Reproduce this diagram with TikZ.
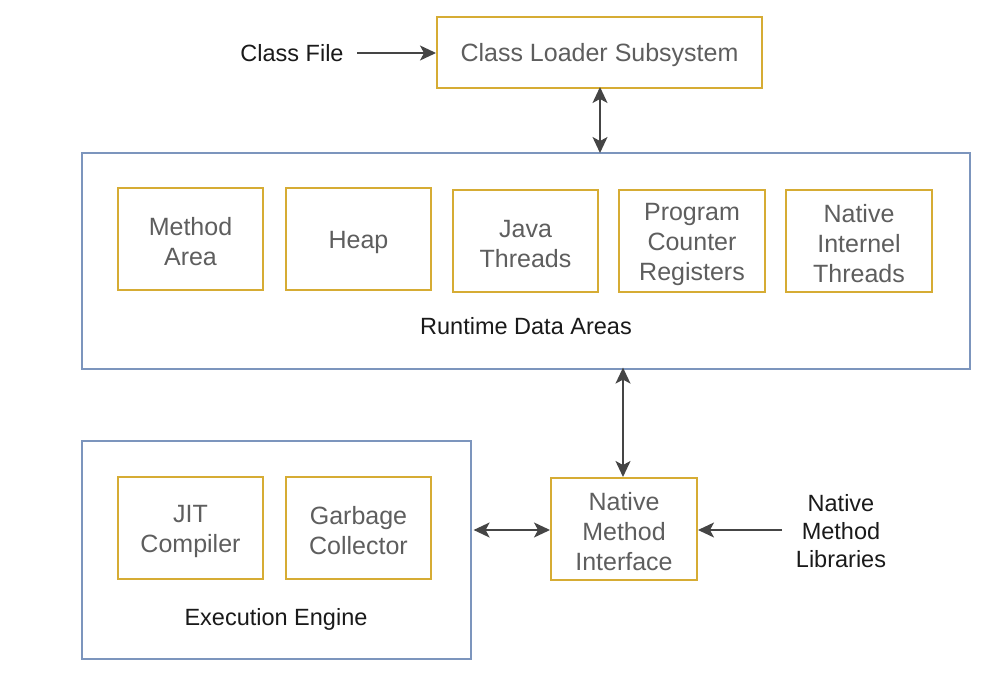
\documentclass[tikz,border=0pt]{standalone}
\usepackage{fontspec}
\setmainfont{Liberation Sans}
\usetikzlibrary{arrows.meta}
\definecolor{gold}{HTML}{D6AC34}
\definecolor{bluegray}{HTML}{7C95BD}
\definecolor{innertext}{HTML}{5E5E5E}
\definecolor{arrowc}{HTML}{454545}
\definecolor{labeltext}{HTML}{1A1A1A}
\tikzset{
  goldtext/.style={text=innertext, align=center, font=\fontsize{25}{30}\selectfont, inner sep=0pt, yshift=-3pt},
  goldbox/.style={draw=gold, line width=2pt, fill=white, inner sep=0pt,
    label={[goldtext]center:{#1}}},
  bluebox/.style={draw=bluegray, line width=1.6pt, fill=white},
  plainlabel/.style={text=labeltext, align=center, font=\fontsize{23.5}{28}\selectfont, inner sep=0pt},
  conn/.style={draw=arrowc, line width=1.6pt},
  tipboth/.style={{Stealth[length=16pt,width=15pt,inset=4pt]}-{Stealth[length=16pt,width=15pt,inset=4pt]}},
  tipend/.style={-{Stealth[length=16pt,width=15pt,inset=4pt]}}
}
\begin{document}
\begin{tikzpicture}[x=1pt,y=-1pt]
\useasboundingbox (0,0) rectangle (998,690);
% runtime data areas container
\node[bluebox, minimum width=888pt, minimum height=216pt, anchor=north west] (rda) at (81,152) {};
\node[plainlabel] (rdalabel) at (526,326) {Runtime Data Areas};
% execution engine container
\node[bluebox, minimum width=389pt, minimum height=218pt, anchor=north west] (ee) at (81,440) {};
\node[plainlabel] (eelabel) at (276,619) {Execution Engine};
% class loader
\node[goldbox={Class Loader Subsystem}, minimum width=325pt, minimum height=71pt] (cls) at (599.5,52.5) {};
\node[plainlabel] (cf) at (292,53) {Class File};
% inner boxes
\node[goldbox={Method\\Area}, minimum width=145pt, minimum height=102pt] (ma) at (190.5,239) {};
\node[goldbox={Heap}, minimum width=145pt, minimum height=102pt] (heap) at (358.5,239) {};
\node[goldbox={Java\\Threads}, minimum width=145pt, minimum height=102pt] (jt) at (525.5,241) {};
\node[goldbox={Program\\Counter\\Registers}, minimum width=146pt, minimum height=102pt] (pc) at (692,241) {};
\node[goldbox={Native\\Internel\\Threads}, minimum width=146pt, minimum height=102pt] (nit) at (859,241) {};
\node[goldbox={JIT\\Compiler}, minimum width=145pt, minimum height=102pt] (jit) at (190.5,528) {};
\node[goldbox={Garbage\\Collector}, minimum width=145pt, minimum height=102pt] (gc) at (358.5,528) {};
\node[goldbox={Native\\Method\\Interface}, minimum width=146pt, minimum height=102pt] (nmi) at (624,529) {};
\node[plainlabel] (nml) at (841,531) {Native\\Method\\Libraries};
% connectors
\coordinate (cfs) at (357,53);
\coordinate (nmls) at (782,530);
\draw[conn, tipend] (cfs) -- (cls.west |- cfs);
\draw[conn, tipboth] ([yshift=2pt]cls.south -| 600,0) -- ([yshift=-1pt]rda.north -| 600,0);
\draw[conn, tipboth] ([yshift=2pt]rda.south -| 623,0) -- (nmi.north -| 623,0);
\draw[conn, tipboth] ([xshift=2pt]ee.east |- 0,530) -- (nmi.west |- 0,530);
\draw[conn, tipend] (nmls) -- (nmi.east |- nmls);
\end{tikzpicture}
\end{document}
